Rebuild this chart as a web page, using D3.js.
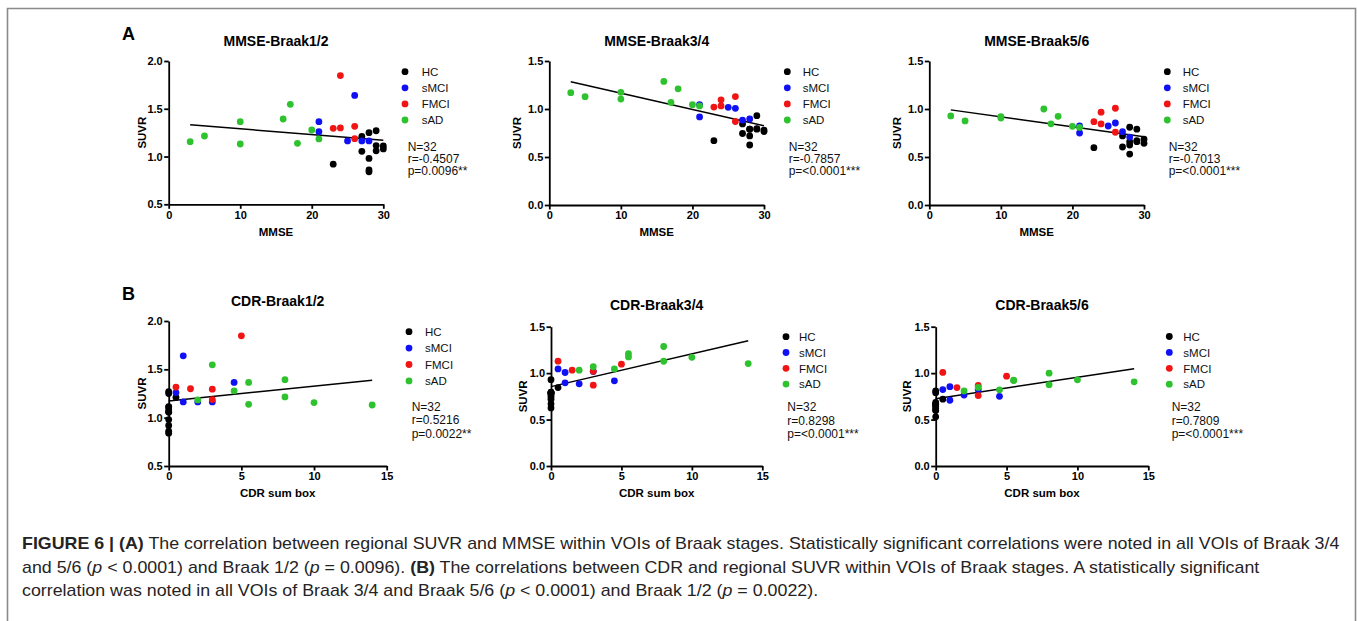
<!DOCTYPE html>
<html>
<head>
<meta charset="utf-8">
<script src="https://cdn.jsdelivr.net/npm/d3@7"></script>
<style>
  html, body { margin: 0; padding: 0; background: #fff; }
  svg { display: block; }
</style>
</head>
<body>
<svg id="fig" width="1357" height="621"></svg>
<script>
// ---- Subjects by group: MMSE, CDR sum of boxes, regional SUVR per Braak VOI ----
const groupNames = ["HC", "sMCI", "FMCI", "sAD"];

const hcMMSE    = [23, 27, 27, 28, 28, 28, 28, 29, 29, 29, 30, 30];
const hcCDR     = [0, 0.5, 0, 0, 0, 0, 0, 0, 0, 0, 0, 0];
const hcBraak12 = [0.92, 1.21, 1.055, 1.25, 0.98, 0.86, 0.84, 1.27, 1.115, 1.06, 1.11, 1.08];
const hcBraak34 = [0.67, 0.845, 0.745, 0.79, 0.72, 0.79, 0.625, 0.93, 0.79, 0.795, 0.78, 0.765];
const hcBraak56 = [0.597, 0.72, 0.604, 0.81, 0.66, 0.625, 0.53, 0.79, 0.66, 0.67, 0.685, 0.642];

const smciMMSE    = [21, 21, 25, 26, 27, 28];
const smciCDR     = [4.5, 0.5, 3, 1, 2, 1];
const smciBraak12 = [1.365, 1.26, 1.163, 1.64, 1.163, 1.163];
const smciBraak34 = [0.917, 1.045, 1.017, 1.007, 0.885, 0.896];
const smciBraak56 = [0.75, 0.823, 0.823, 0.854, 0.764, 0.708];

const fmciMMSE    = [23, 24, 24, 26, 26];
const fmciCDR     = [3, 5, 1.5, 0.5, 3];
const fmciBraak12 = [1.295, 1.847, 1.299, 1.316, 1.187];
const fmciBraak34 = [1.02, 1.096, 1.032, 1.129, 0.87];
const fmciBraak56 = [0.868, 0.967, 0.845, 1.008, 0.758];

const sadMMSE    = [3, 5, 10, 10, 16, 17, 18, 20, 21];
const sadCDR     = [10, 8, 5.5, 14, 8, 3, 5.5, 4.5, 2];
const sadBraak12 = [1.156, 1.215, 1.365, 1.131, 1.393, 1.547, 1.138, 1.278, 1.184];
const sadBraak34 = [1.17, 1.128, 1.174, 1.103, 1.287, 1.069, 1.21, 1.045, 1.032];
const sadBraak56 = [0.928, 0.876, 0.92, 0.906, 1.0, 0.846, 0.924, 0.82, 0.808];

// ---- Panel text and ticks ----
const panelTitles = ["MMSE-Braak1/2", "MMSE-Braak3/4", "MMSE-Braak5/6",
                     "CDR-Braak1/2", "CDR-Braak3/4", "CDR-Braak5/6"];
const statN = ["32", "32", "32", "32", "32", "32"];
const statR = ["-0.4507", "-0.7857", "-0.7013", "0.5216", "0.8298", "0.7809"];
const statP = ["0.0096**", "<0.0001***", "<0.0001***", "0.0022**", "<0.0001***", "<0.0001***"];
const mmseTicks = [0, 10, 20, 30];
const cdrTicks = [0, 5, 10, 15];
const suvrTicksHigh = [0.5, 1.0, 1.5, 2.0];
const suvrTicks = [0.0, 0.5, 1.0, 1.5];

// ---- Build cohort table ----
const cohort = [
  { name: "HC",   mmse: hcMMSE,   cdr: hcCDR,   b12: hcBraak12,   b34: hcBraak34,   b56: hcBraak56 },
  { name: "sMCI", mmse: smciMMSE, cdr: smciCDR, b12: smciBraak12, b34: smciBraak34, b56: smciBraak56 },
  { name: "FMCI", mmse: fmciMMSE, cdr: fmciCDR, b12: fmciBraak12, b34: fmciBraak34, b56: fmciBraak56 },
  { name: "sAD",  mmse: sadMMSE,  cdr: sadCDR,  b12: sadBraak12,  b34: sadBraak34,  b56: sadBraak56 }
];
const colors = { HC: "#000000", sMCI: "#1010f5", FMCI: "#f01414", sAD: "#2ec22e" };

const panels = [
  { xKey: "mmse", yKey: "b12", xDomain: [0, 30], yDomain: [0.5, 2.0], xTicks: mmseTicks, yTicks: suvrTicksHigh, xLabel: "MMSE" },
  { xKey: "mmse", yKey: "b34", xDomain: [0, 30], yDomain: [0, 1.5], xTicks: mmseTicks, yTicks: suvrTicks, xLabel: "MMSE" },
  { xKey: "mmse", yKey: "b56", xDomain: [0, 30], yDomain: [0, 1.5], xTicks: mmseTicks, yTicks: suvrTicks, xLabel: "MMSE" },
  { xKey: "cdr",  yKey: "b12", xDomain: [0, 15], yDomain: [0.5, 2.0], xTicks: cdrTicks, yTicks: suvrTicksHigh, xLabel: "CDR sum box" },
  { xKey: "cdr",  yKey: "b34", xDomain: [0, 15], yDomain: [0, 1.5], xTicks: cdrTicks, yTicks: suvrTicks, xLabel: "CDR sum box" },
  { xKey: "cdr",  yKey: "b56", xDomain: [0, 15], yDomain: [0, 1.5], xTicks: cdrTicks, yTicks: suvrTicks, xLabel: "CDR sum box" }
];

// Placement of each panel on the page
const layout = [
  { x0: 168.7, x1: 383.3, yTop: 61,    yBot: 204.3, titleY: 45.7, xlabY: 235.7, ylabX: 141.7, legDot: 405,    legText: 421.7,  legY: 71.7,  legStep: 16.1, statX: 407.7,  statY: 151, statStep: 12 },
  { x0: 549.3, x1: 764,   yTop: 61,    yBot: 205,   titleY: 45.7, xlabY: 235.7, ylabX: 516.7, legDot: 787.3,  legText: 802.7,  legY: 71.7,  legStep: 16.1, statX: 788.7,  statY: 151, statStep: 12 },
  { x0: 929.3, x1: 1144,  yTop: 61,    yBot: 205,   titleY: 45.7, xlabY: 235.7, ylabX: 896.7, legDot: 1167.3, legText: 1182.7, legY: 71.7,  legStep: 16.1, statX: 1168.7, statY: 151, statStep: 12 },
  { x0: 168.7, x1: 386.7, yTop: 321,   yBot: 466,   titleY: 305.7, xlabY: 497, ylabX: 141.7, legDot: 409,    legText: 425,    legY: 331.7, legStep: 16.4, statX: 411.7,  statY: 411, statStep: 13.3 },
  { x0: 551,   x1: 762.3, yTop: 326.7, yBot: 466,   titleY: 310,  xlabY: 497,   ylabX: 522.7, legDot: 786,    legText: 799,    legY: 336.7, legStep: 15.8, statX: 787.3,  statY: 411, statStep: 13.5 },
  { x0: 935.7, x1: 1148.3, yTop: 326.7, yBot: 466,  titleY: 310,  xlabY: 497,   ylabX: 906.7, legDot: 1169.3, legText: 1183.3, legY: 336.5, legStep: 15.9, statX: 1171.7, statY: 411, statStep: 13.5 }
];

const W = 1357, H = 621;
const FONT = "'Liberation Sans', Arial, Helvetica, sans-serif";
const svg = d3.select("#fig");
svg.append("rect").attr("width", W).attr("height", H).attr("fill", "#fff");

// page frame (open at the bottom)
svg.append("path")
  .attr("d", `M7.5,${H + 2} V8.5 H1355.5 V${H + 2}`)
  .attr("fill", "none").attr("stroke", "#8a8a8a").attr("stroke-width", 1.6);

// section letters
svg.append("text").attr("x", 122).attr("y", 40).text("A")
  .attr("font-family", FONT).attr("font-weight", "bold").attr("font-size", 18);
svg.append("text").attr("x", 122).attr("y", 300).text("B")
  .attr("font-family", FONT).attr("font-weight", "bold").attr("font-size", 18);

function fitLine(pts) {
  const mx = d3.mean(pts, d => d.x), my = d3.mean(pts, d => d.y);
  const sxy = d3.sum(pts, d => (d.x - mx) * (d.y - my));
  const sxx = d3.sum(pts, d => (d.x - mx) * (d.x - mx));
  const b = sxy / sxx;
  return { slope: b, intercept: my - b * mx };
}

panels.forEach((p, i) => {
  const L = layout[i];
  const x = d3.scaleLinear().domain(p.xDomain).range([L.x0, L.x1]);
  const y = d3.scaleLinear().domain(p.yDomain).range([L.yBot, L.yTop]);
  const g = svg.append("g");

  const styleAxis = sel => {
    sel.select(".domain").attr("stroke", "#000").attr("stroke-width", 1.8);
    sel.selectAll(".tick line").attr("stroke", "#000").attr("stroke-width", 1.8);
    sel.selectAll(".tick text").attr("font-family", FONT).attr("font-weight", "bold")
      .attr("font-size", 11).attr("fill", "#000");
  };

  g.append("g").attr("transform", `translate(0,${L.yBot})`)
    .call(d3.axisBottom(x).tickValues(p.xTicks).tickSize(4.5).tickSizeOuter(0)
      .tickPadding(2).tickFormat(d3.format("d")))
    .call(styleAxis);
  g.append("g").attr("transform", `translate(${L.x0},0)`)
    .call(d3.axisLeft(y).tickValues(p.yTicks).tickSize(4.5).tickSizeOuter(0)
      .tickPadding(1.5).tickFormat(d3.format(".1f")))
    .call(styleAxis);

  // title and axis titles
  g.append("text").attr("x", (L.x0 + L.x1) / 2).attr("y", L.titleY)
    .attr("text-anchor", "middle").attr("font-family", FONT).attr("font-weight", "bold")
    .attr("font-size", 14).text(panelTitles[i]);
  g.append("text").attr("x", (L.x0 + L.x1) / 2).attr("y", L.xlabY)
    .attr("text-anchor", "middle").attr("font-family", FONT).attr("font-weight", "bold")
    .attr("font-size", 11.5).text(p.xLabel);
  g.append("text")
    .attr("transform", `translate(${L.ylabX + 4},${(L.yTop + L.yBot) / 2}) rotate(-90)`)
    .attr("text-anchor", "middle").attr("font-family", FONT).attr("font-weight", "bold")
    .attr("font-size", 11.5).text("SUVR");

  // all subjects for this panel
  const pts = [];
  cohort.forEach(c => {
    c[p.xKey].forEach((v, k) => pts.push({ x: v, y: c[p.yKey][k], group: c.name }));
  });

  // least-squares regression line over the observed x range
  const fit = fitLine(pts);
  const xr = d3.extent(pts, d => d.x);
  g.append("line")
    .attr("x1", x(xr[0])).attr("y1", y(fit.intercept + fit.slope * xr[0]))
    .attr("x2", x(xr[1])).attr("y2", y(fit.intercept + fit.slope * xr[1]))
    .attr("stroke", "#000").attr("stroke-width", 1.5);

  // scatter points, drawn group by group
  g.append("g").selectAll("circle").data(pts).join("circle")
    .attr("cx", d => x(d.x)).attr("cy", d => y(d.y)).attr("r", 3.4)
    .attr("fill", d => colors[d.group]);

  // legend
  const leg = g.append("g");
  groupNames.forEach((name, k) => {
    const ly = L.legY + k * L.legStep;
    leg.append("circle").attr("cx", L.legDot).attr("cy", ly).attr("r", 3.4).attr("fill", colors[name]);
    leg.append("text").attr("x", L.legText).attr("y", ly + 4.2)
      .attr("font-family", FONT).attr("font-size", 11.5).attr("fill", "#111").text(name);
  });

  // statistics
  const st = g.append("text").attr("font-family", FONT).attr("font-size", 12).attr("fill", "#111");
  [`N=${statN[i]}`, `r=${statR[i]}`, `p=${statP[i]}`].forEach((t, k) => {
    st.append("tspan").attr("x", L.statX).attr("y", L.statY + k * L.statStep).text(t);
  });
});

// ---- caption ----
const captionLines = [
  [["FIGURE 6 | (A)", "b"], [" The correlation between regional SUVR and MMSE within VOIs of Braak stages. Statistically significant correlations were noted in all VOIs of Braak 3/4", ""]],
  [["and 5/6 (", ""], ["p", "i"], [" < 0.0001) and Braak 1/2 (", ""], ["p", "i"], [" = 0.0096). ", ""], ["(B)", "b"],
   [" The correlations between CDR and regional SUVR within VOIs of Braak stages. A statistically significant", ""]],
  [["correlation was noted in all VOIs of Braak 3/4 and Braak 5/6 (", ""], ["p", "i"], [" < 0.0001) and Braak 1/2 (", ""],
   ["p", "i"], [" = 0.0022).", ""]]
];
const captionBase = [549, 573, 596];
const capGroups = captionLines.map((segs, li) => {
  const cg = svg.append("g").attr("transform", `translate(22,${captionBase[li]})`);
  const t = cg.append("text").attr("x", 0).attr("y", 0)
    .attr("font-family", FONT).attr("font-size", 17).attr("fill", "#262324");
  segs.forEach(([s, f]) => {
    const ts = t.append("tspan").text(s);
    if (f === "b") ts.attr("font-weight", "bold");
    if (f === "i") ts.attr("font-style", "italic");
  });
  return { cg, t };
});
const natural = capGroups[0].t.node().getComputedTextLength();
const sx = 1318 / natural;
capGroups.forEach((c, li) => c.cg.attr("transform", `translate(22,${captionBase[li]}) scale(${sx},1)`));
</script>
</body>
</html>
